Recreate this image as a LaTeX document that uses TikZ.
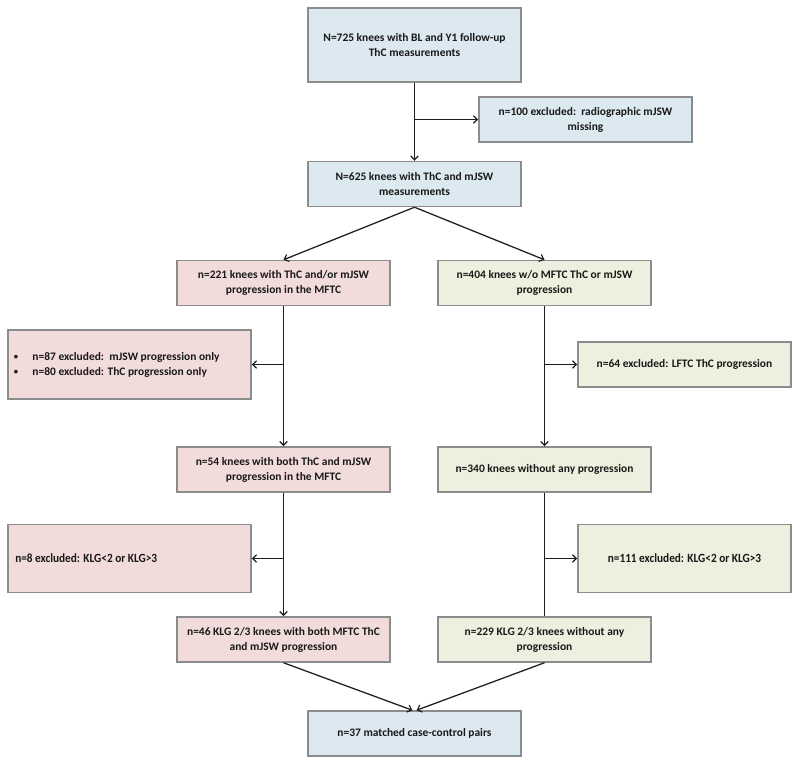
\documentclass[tikz,border=0pt]{standalone}
\usepackage{fontspec}
\setmainfont{Carlito}
\usetikzlibrary{arrows.meta}
\definecolor{bluefill}{HTML}{DCE9F1}
\definecolor{pinkfill}{HTML}{F2DCDB}
\definecolor{greenfill}{HTML}{EBF1DE}
\definecolor{boxline}{HTML}{8C8C8C}
\definecolor{conn}{HTML}{1E1E1E}
\tikzset{
  boxfont/.style={font=\bfseries\fontsize{8.6}{11.2}\selectfont, text=black!90},
  box/.style={draw=boxline, line width=1.1pt, minimum width=213*0.75pt, minimum height=45*0.75pt,
    align=center, inner sep=2pt, boxfont},
  bluebox/.style={box, fill=bluefill},
  pinkbox/.style={box, fill=pinkfill},
  greenbox/.style={box, fill=greenfill},
  conn/.style={draw=conn, line width=0.95pt},
  arr/.style={conn, -{Straight Barb[length=3pt,width=5.6pt,line width=0.9pt]}},
}
\newcommand{\smbul}{\makebox[14pt][l]{\raisebox{0.5pt}{\scalebox{0.75}{\textbullet}}}}
\newcommand{\narrowtxt}[1]{{\fontsize{9.4}{11.2}\selectfont\scalebox{0.9}[1]{#1}}}
\begin{document}
\begin{tikzpicture}[x=0.75pt,y=-0.75pt]
\useasboundingbox (0,0) rectangle (800,765);
% boxes
\node[bluebox, minimum height=74*0.75pt] (top) at (414.5,45) {N=725 knees with BL and Y1 follow-up\\ThC measurements};
\node[bluebox] (ex1) at (585.5,119.5) {n=100 excluded:\ \ radiographic mJSW\\missing};
\node[bluebox] (n625) at (414.5,184) {N=625 knees with ThC and mJSW\\measurements};
\node[pinkbox] (L1) at (283.5,283) {n=221 knees with ThC and/or mJSW\\progression in the MFTC};
\node[greenbox] (R1) at (544.5,283) {n=404 knees w/o MFTC ThC or mJSW\\progression};
\node[pinkbox, minimum width=243*0.75pt, minimum height=69*0.75pt] (exL1) at (129.5,364.5) {};
\node[anchor=west, boxfont, align=left, inner sep=0pt] (exL1t) at (13.5,364.5)
  {\smbul n=87 excluded:\ \ mJSW progression only\\\smbul n=80 excluded: ThC progression only};
\node[greenbox] (exR1) at (684.5,364.5) {n=64 excluded: LFTC ThC progression};
\node[pinkbox] (L2) at (283.5,469.5) {n=54 knees with both ThC and mJSW\\progression in the MFTC};
\node[greenbox] (R2) at (544.5,469.5) {n=340 knees without any progression};
\node[pinkbox, minimum width=243*0.75pt, minimum height=68*0.75pt] (exL2) at (129.5,558.5) {};
\node[anchor=west, boxfont, inner sep=0pt] (exL2t) at (15,558.5)
  {\narrowtxt{n=8 excluded: KLG<2 or KLG>3}};
\node[greenbox, minimum height=68*0.75pt] (exR2) at (684.5,558.5) {\narrowtxt{n=111 excluded: KLG<2 or KLG>3}};
\node[pinkbox] (L3) at (283.5,639.5) {n=46 KLG 2/3 knees with both MFTC ThC\\and mJSW progression};
\node[greenbox] (R3) at (544.5,639.5) {n=229 KLG 2/3 knees without any\\progression};
\node[bluebox] (fin) at (414.5,733.5) {n=37 matched case-control pairs};
% connectors
\coordinate (b1) at (top.south |- ex1.west);
\draw[arr] (top.south) -- (n625.north);
\draw[arr] (b1) -- (ex1.west);
\draw[arr] (n625.south) -- (L1.north);
\draw[arr] (n625.south) -- (R1.north);
\coordinate (b2) at (L1.south |- exL1.east);
\draw[arr] (L1.south) -- (L2.north);
\draw[arr] (b2) -- (exL1.east);
\coordinate (b3) at (R1.south |- exR1.west);
\draw[arr] (R1.south) -- (R2.north);
\draw[arr] (b3) -- (exR1.west);
\coordinate (b4) at (L2.south |- exL2.east);
\draw[arr] (L2.south) -- (L3.north);
\draw[arr] (b4) -- (exL2.east);
\coordinate (b5) at (R2.south |- exR2.west);
\draw[conn] (R2.south) -- (R3.north);
\draw[arr] (b5) -- (exR2.west);
\coordinate (f1) at ([xshift=-1.5pt]fin.north);
\coordinate (f2) at ([xshift=1.5pt]fin.north);
\draw[arr] (L3.south) -- (f1);
\draw[arr] (R3.south) -- (f2);
\end{tikzpicture}
\end{document}
